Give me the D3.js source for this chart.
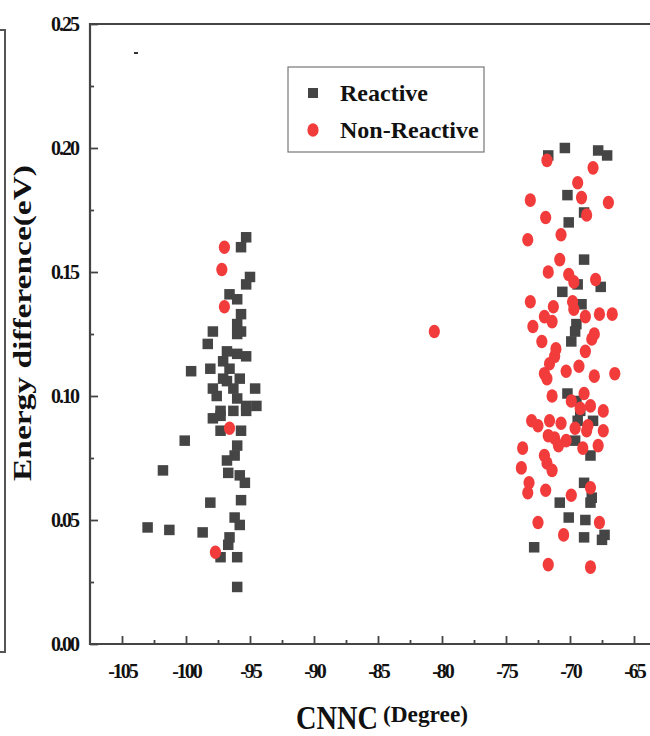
<!DOCTYPE html>
<html>
<head>
<meta charset="utf-8">
<script src="https://cdn.jsdelivr.net/npm/d3@7"></script>
<style>
  body { margin: 0; background: #fff; }
  svg { display: block; }
  text { font-family: "Liberation Serif", "Times New Roman", serif; font-weight: bold; fill: #111; }
</style>
</head>
<body>
<svg id="chart" width="650" height="736"></svg>
<script>
// CNNC angle (degree) vs energy difference (eV)
const reactiveX = [
    -95.3, -95.7, -95.0, -95.3, -96.6, -96.0, -95.7, -96.0, -95.7, -96.0,
    -97.9, -98.3, -96.8, -96.0, -95.3, -97.1, -96.6, -99.6, -98.1, -97.1,
    -96.8, -95.8, -97.9, -96.3, -94.6, -97.6, -96.0, -95.3, -94.5, -96.3,
    -97.3, -97.9, -97.3, -95.3, -95.7, -97.3, -100.1, -96.0, -96.2, -96.8,
    -96.7, -95.8, -95.4, -101.8, -98.1, -95.7, -96.2, -95.8, -103.0, -101.3,
    -98.7, -96.6, -96.7, -96.0, -97.3, -96.0,
    -71.7, -70.4, -67.8, -67.1, -70.2, -68.9, -70.1, -68.9, -69.4, -67.6,
    -70.6, -69.1, -69.5, -69.6, -69.9, -70.2, -69.5, -69.2, -69.4, -68.2,
    -69.6, -68.4, -68.9, -68.3, -68.4, -70.8, -70.1, -68.8, -68.9, -67.3,
    -67.5, -72.8
];
const reactiveY = [
    0.164, 0.160, 0.148, 0.145, 0.141, 0.139, 0.133, 0.129, 0.126, 0.125,
    0.126, 0.121, 0.118, 0.117, 0.116, 0.114, 0.111, 0.110, 0.111, 0.107,
    0.106, 0.107, 0.103, 0.103, 0.103, 0.100, 0.099, 0.096, 0.096, 0.094,
    0.094, 0.091, 0.092, 0.094, 0.086, 0.086, 0.082, 0.080, 0.076, 0.074,
    0.069, 0.068, 0.065, 0.070, 0.057, 0.058, 0.051, 0.048, 0.047, 0.046,
    0.045, 0.043, 0.040, 0.035, 0.035, 0.023,
    0.197, 0.200, 0.199, 0.197, 0.181, 0.174, 0.170, 0.155, 0.145, 0.144,
    0.142, 0.137, 0.129, 0.126, 0.122, 0.101, 0.098, 0.094, 0.090, 0.090,
    0.082, 0.076, 0.065, 0.059, 0.057, 0.057, 0.051, 0.050, 0.043, 0.044,
    0.042, 0.039
];
const nonReactiveX = [
    -97.0, -97.2, -97.0, -96.6, -97.7,
    -80.6,
    -71.8, -68.2, -69.4, -69.1, -73.1, -67.0, -68.7, -71.9, -70.7, -73.3,
    -70.8, -71.7, -70.1, -69.7, -68.0, -73.1, -71.3, -69.8, -69.7, -68.8,
    -67.7, -66.7, -72.0, -71.4, -72.9, -68.1, -68.3, -72.2, -71.1, -68.8,
    -71.2, -71.6, -70.3, -69.3, -72.0, -71.8, -68.1, -66.5, -68.9, -71.4,
    -69.9, -69.2, -68.4, -67.4, -73.0, -72.5, -71.6, -70.7, -69.6, -68.6,
    -68.7, -67.4, -71.7, -71.2, -70.3, -70.9, -69.0, -67.8, -73.7, -72.0,
    -71.8, -71.4, -73.8, -73.2, -73.3, -68.4, -71.9, -69.9, -67.7, -72.5,
    -70.5, -71.7, -68.4
];
const nonReactiveY = [
    0.160, 0.151, 0.136, 0.087, 0.037,
    0.126,
    0.195, 0.192, 0.186, 0.180, 0.179, 0.178, 0.173, 0.172, 0.165, 0.163,
    0.155, 0.150, 0.149, 0.146, 0.147, 0.138, 0.136, 0.138, 0.135, 0.132,
    0.133, 0.133, 0.132, 0.130, 0.128, 0.125, 0.123, 0.122, 0.119, 0.118,
    0.116, 0.113, 0.110, 0.112, 0.109, 0.107, 0.108, 0.109, 0.101, 0.100,
    0.098, 0.095, 0.096, 0.094, 0.090, 0.088, 0.090, 0.089, 0.087, 0.088,
    0.086, 0.086, 0.084, 0.083, 0.082, 0.080, 0.079, 0.080, 0.079, 0.076,
    0.073, 0.070, 0.071, 0.065, 0.061, 0.063, 0.062, 0.060, 0.049, 0.049,
    0.044, 0.032, 0.031
];

const xTicks = [-105, -100, -95, -90, -85, -80, -75, -70, -65];
const yTicks = [0.00, 0.05, 0.10, 0.15, 0.20, 0.25];
const legendLabels = ["Reactive", "Non-Reactive"];

const colSquare = "#454545";
const colRed = "#f23c3c";

const svg = d3.select("#chart");
const mLeft = 90, mTop = 24, mBottom = 644, mRight = 666;

const x = d3.scaleLinear().domain([-107.5, -62.5]).range([mLeft, mRight]);
const y = d3.scaleLinear().domain([0, 0.25]).range([mBottom, mTop]);

// bit of the neighbouring panel on the far left
svg.append("path")
    .attr("d", "M0,30H5V652H0")
    .attr("fill", "none")
    .attr("stroke", "#555")
    .attr("stroke-width", 2);

// frame
svg.append("path")
    .attr("d", `M${mRight},${mTop}H${mLeft}V${mBottom}H${mRight}`)
    .attr("fill", "none")
    .attr("stroke", "#444")
    .attr("stroke-width", 2.2);

// axes, ticks pointing inwards
const xMinor = d3.range(-105, -62.5, 2.5).filter(v => !xTicks.includes(v));
const yMinor = d3.range(0.025, 0.25, 0.05);

const xAxis = svg.append("g").attr("transform", `translate(0,${mBottom})`)
    .call(d3.axisBottom(x).tickValues(xTicks).tickSizeInner(-8).tickSizeOuter(0)
        .tickPadding(20).tickFormat(d => String(d)));
const xAxisMinor = svg.append("g").attr("transform", `translate(0,${mBottom})`)
    .call(d3.axisBottom(x).tickValues(xMinor).tickSize(-4).tickFormat(""));

const yAxis = svg.append("g").attr("transform", `translate(${mLeft},0)`)
    .call(d3.axisLeft(y).tickValues(yTicks).tickSizeInner(-8).tickSizeOuter(0)
        .tickPadding(12).tickFormat(d3.format(".2f")));
const yAxisMinor = svg.append("g").attr("transform", `translate(${mLeft},0)`)
    .call(d3.axisLeft(y).tickValues(yMinor).tickSize(-4).tickFormat(""));

[xAxis, xAxisMinor, yAxis, yAxisMinor].forEach(g => {
    g.select(".domain").remove();
    g.selectAll(".tick line").attr("stroke", "#444").attr("stroke-width", 1.8);
    g.selectAll(".tick text")
        .attr("font-family", "Liberation Serif, serif")
        .attr("font-weight", "bold")
        .attr("font-size", 20)
        .attr("fill", "#111")
        .style("letter-spacing", "-2px");
});

// axis titles
svg.append("text")
    .attr("transform", "translate(31,323) rotate(-90)")
    .attr("text-anchor", "middle")
    .attr("font-size", 25)
    .attr("textLength", 316)
    .attr("lengthAdjust", "spacingAndGlyphs")
    .text("Energy difference(eV)");

svg.append("text")
    .attr("x", 296)
    .attr("y", 729)
    .attr("font-size", 33)
    .attr("textLength", 82)
    .attr("lengthAdjust", "spacingAndGlyphs")
    .text("CNNC");
svg.append("text")
    .attr("x", 383)
    .attr("y", 722)
    .attr("font-size", 24)
    .attr("textLength", 85)
    .attr("lengthAdjust", "spacingAndGlyphs")
    .text("(Degree)");

// data
const reactive = reactiveX.map((v, i) => ({ x: v, y: reactiveY[i] }));
const nonReactive = nonReactiveX.map((v, i) => ({ x: v, y: nonReactiveY[i] }));

const sq = 10.5;
svg.append("g").selectAll("rect")
    .data(reactive)
    .enter()
    .append("rect")
    .attr("x", d => x(d.x) - sq / 2)
    .attr("y", d => y(d.y) - sq / 2)
    .attr("width", sq)
    .attr("height", sq)
    .attr("fill", colSquare);

svg.append("g").selectAll("ellipse")
    .data(nonReactive)
    .enter()
    .append("ellipse")
    .attr("cx", d => x(d.x))
    .attr("cy", d => y(d.y))
    .attr("rx", 5.6)
    .attr("ry", 6.8)
    .attr("fill", colRed);

// stray speck on the original
svg.append("rect").attr("x", 134).attr("y", 52).attr("width", 4).attr("height", 2).attr("fill", "#333");

// legend
const legend = svg.append("g").attr("transform", "translate(288,67)");
legend.append("rect")
    .attr("width", 196)
    .attr("height", 85)
    .attr("fill", "#fff")
    .attr("stroke", "#777")
    .attr("stroke-width", 1.2);

const items = legend.selectAll(".item")
    .data(legendLabels)
    .enter()
    .append("g")
    .attr("class", "item")
    .attr("transform", (d, i) => `translate(0,${26 + i * 37})`);

items.filter((d, i) => i === 0).append("rect")
    .attr("x", 20).attr("y", -5).attr("width", 10).attr("height", 10)
    .attr("fill", colSquare);
items.filter((d, i) => i === 1).append("ellipse")
    .attr("cx", 25).attr("cy", 0).attr("rx", 5.6).attr("ry", 6.8)
    .attr("fill", colRed);

items.append("text")
    .attr("x", 52)
    .attr("y", 8)
    .attr("font-size", 24)
    .text(d => d);
</script>
</body>
</html>
